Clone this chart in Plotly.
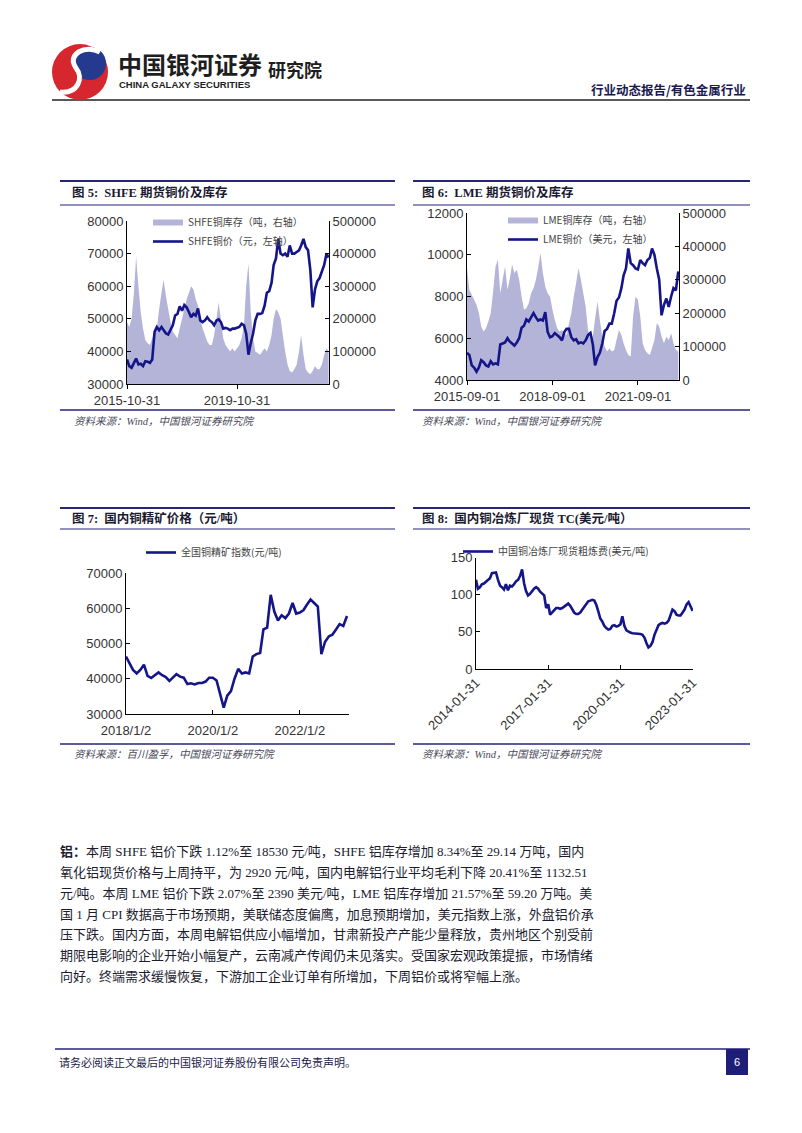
import plotly.graph_objects as go
import pandas as pd

W, H = 802, 1133


def px(x):
    return x / W


def py(y):
    return 1 - y / H


NAVY = '#15158A'
AREA = '#B4B4D8'
RULE = '#25257A'
TICKC = '#333333'
CJK = 'Noto Sans CJK SC'
SERIF = 'Liberation Serif, Noto Sans CJK SC'
SANS = 'Liberation Sans, Arial, Noto Sans CJK SC'

# ---------------- data ----------------
# Fig 5: SHFE copper price (yuan/t, left) and SHFE copper stock (t, right), month-end from 2015-10-31
shfe_dates = pd.date_range('2015-10-31', periods=89, freq=pd.offsets.MonthEnd())
shfe_price = [
    37500, 35500, 35000, 36500, 37800, 36000, 36200, 35500, 37000, 36800, 36500, 37500,
    46000, 47500, 46500, 47500, 46500, 45500, 45200, 46500, 48000, 51000, 51500, 53800,
    52500, 54200, 53500, 52000, 50500, 51500, 51000, 53200, 49500, 49000, 49500, 50500,
    49500, 49000, 48000, 49500, 49800, 49000, 47000, 47200, 47000, 46500, 47000, 47000,
    47200, 47500, 48500, 48000, 45500, 39000, 42500, 45500, 49500, 51500, 51500, 51800,
    54000, 58000, 58500, 61000, 66500, 68500, 74500, 70000, 69500, 70000, 69000, 72500,
    70000, 70000, 70500, 71000, 72500, 74500, 72000, 71000, 65000, 53500, 59000, 61500,
    62500, 64500, 66500, 70000, 68800,
]
shfe_stock = [
    190000, 175000, 200000, 280000, 390000, 300000, 220000, 170000, 135000, 125000, 120000, 140000,
    160000, 170000, 230000, 280000, 320000, 270000, 230000, 190000, 160000, 150000, 140000, 170000,
    200000, 230000, 260000, 280000, 300000, 290000, 260000, 240000, 200000, 170000, 150000, 130000,
    120000, 120000, 150000, 200000, 250000, 200000, 140000, 120000, 110000, 100000, 110000, 100000,
    110000, 120000, 140000, 180000, 300000, 370000, 220000, 140000, 100000, 95000, 90000, 100000,
    110000, 100000, 120000, 150000, 200000, 230000, 220000, 200000, 150000, 100000, 60000, 40000,
    35000, 45000, 60000, 100000, 150000, 90000, 45000, 35000, 30000, 40000, 55000, 45000,
    45000, 60000, 90000, 110000, 100000,
]

# Fig 6: LME copper price (USD/t, left) and LME copper stock (t, right), monthly from 2015-09-01
lme_dates = pd.date_range('2015-09-01', periods=90, freq=pd.offsets.MonthBegin())
lme_price = [
    5300, 5200, 4700, 4600, 4400, 4600, 4950, 4850, 4700, 4650, 4900, 4750,
    4800, 4750, 5700, 5750, 5800, 6000, 5850, 5750, 5650, 5800, 6000, 6500,
    6600, 6900, 6800, 7000, 7200, 7000, 6850, 6900, 6850, 7250, 6300, 6050,
    6100, 6250, 6150, 6050, 5900, 6300, 6450, 6450, 6050, 5900, 5950, 5750,
    5800, 5750, 5900, 6150, 6250, 5700, 4700, 5100, 5300, 5750, 6350, 6450,
    6700, 6700, 7200, 7800, 7950, 8400, 9000, 9350, 10300, 9600, 9500, 9350,
    9300, 9750, 9600, 9500, 9750, 9850, 10300, 10000, 9350, 8800, 7100, 7600,
    7900, 7500, 8000, 8400, 8300, 9200,
]
lme_stock = [
    335000, 270000, 255000, 240000, 225000, 200000, 160000, 145000, 155000, 175000, 200000, 265000,
    340000, 360000, 260000, 300000, 340000, 270000, 300000, 345000, 320000, 330000, 300000, 250000,
    210000, 215000, 230000, 260000, 275000, 300000, 335000, 380000, 320000, 280000, 260000, 250000,
    210000, 180000, 155000, 145000, 150000, 140000, 135000, 170000, 200000, 250000, 290000, 335000,
    300000, 260000, 220000, 150000, 120000, 130000, 185000, 235000, 180000, 130000, 100000, 85000,
    95000, 85000, 90000, 120000, 150000, 135000, 110000, 90000, 75000, 70000, 190000, 250000,
    240000, 190000, 110000, 90000, 80000, 75000, 95000, 120000, 170000, 160000, 130000, 110000,
    130000, 120000, 140000, 110000, 90000, 85000,
]

# Fig 7: national copper concentrate index (yuan/t), monthly from 2018-01-02
conc_dates = pd.date_range('2018-01-01', periods=62, freq=pd.offsets.MonthBegin()) + pd.Timedelta(days=1)
conc_index = [
    46300, 44500, 42500, 41500, 42500, 44000, 40800, 40200, 41000, 41800, 41000, 40500,
    39400, 40500, 41300, 40600, 40300, 38500, 38700, 38400, 38800, 38800, 39200, 40300,
    40300, 39500, 35500, 31800, 35200, 36500, 40000, 42800, 41500, 41800, 41500, 46300,
    47000, 47300, 54000, 54500, 63800, 59000, 56500, 58000, 57200, 58500, 61500, 58500,
    58800, 59500, 61000, 62500, 61500, 60500, 47000, 50500, 52000, 52500, 54000, 55500,
    55000, 57800,
]

# Fig 8: China copper smelter spot TC (USD/t), month-end from 2014-01-31
tc_dates = pd.date_range('2014-01-31', periods=109, freq=pd.offsets.MonthEnd())
tc_values = [
    120, 108, 110, 114, 115, 117, 120, 122, 129, 130, 130, 120,
    112, 110, 107, 114, 106, 112, 111, 114, 118, 120, 125, 134,
    115, 105, 99, 101, 105, 108, 110, 108, 104, 101, 99, 82,
    87, 73, 76, 80, 82, 82, 81, 82, 84, 87, 88, 85,
    81, 76, 74, 74, 76, 80, 84, 88, 91, 92, 93, 92,
    86, 78, 68, 64, 58, 55, 53, 54, 58, 59, 57, 58,
    60, 71, 58, 52, 50, 49, 48, 48, 48, 47, 47, 46,
    42, 35, 29, 31, 36, 46, 54, 59, 61, 62, 61, 62,
    65, 72, 80, 78, 73, 72, 72, 76, 80, 87, 90, 84, 78,
]

# tick values / labels
shfe_ticks = ['2015-10-31', '2019-10-31']
lme_ticks = ['2015-09-01', '2018-09-01', '2021-09-01']
conc_ticks = ['2018-01-02', '2020-01-02', '2022-01-02']
conc_ticktext = ['2018/1/2', '2020/1/2', '2022/1/2']
tc_ticks = ['2014-01-31', '2017-01-31', '2020-01-31', '2023-01-31']
stock_ticks = [0, 100000, 200000, 300000, 400000, 500000]
shfe_price_ticks = [30000, 40000, 50000, 60000, 70000, 80000]
lme_price_ticks = [4000, 6000, 8000, 10000, 12000]
conc_y_ticks = [30000, 40000, 50000, 60000, 70000]
tc_y_ticks = [0, 50, 100, 150]


def lab(vals):
    return [str(v) for v in vals]


# ---------------- figure ----------------
fig = go.Figure()

fig.add_trace(go.Scatter(x=shfe_dates, y=shfe_stock, name='SHFE铜库存（吨，右轴）', mode='none',
                         fill='tozeroy', fillcolor=AREA, xaxis='x', yaxis='y', legend='legend'))
fig.add_trace(go.Scatter(x=shfe_dates, y=shfe_price, name='SHFE铜价（元，左轴）', mode='lines',
                         line=dict(color=NAVY, width=2.6), xaxis='x', yaxis='y2', legend='legend'))
fig.add_trace(go.Scatter(x=lme_dates, y=lme_stock, name='LME铜库存（吨，右轴）', mode='none',
                         fill='tozeroy', fillcolor=AREA, xaxis='x2', yaxis='y3', legend='legend2'))
fig.add_trace(go.Scatter(x=lme_dates, y=lme_price, name='LME铜价（美元，左轴）', mode='lines',
                         line=dict(color=NAVY, width=2.6), xaxis='x2', yaxis='y4', legend='legend2'))
fig.add_trace(go.Scatter(x=conc_dates, y=conc_index, name='全国铜精矿指数(元/吨)', mode='lines',
                         line=dict(color=NAVY, width=2.6), xaxis='x3', yaxis='y5', legend='legend3'))
fig.add_trace(go.Scatter(x=tc_dates, y=tc_values, name='中国铜冶炼厂现货粗炼费(美元/吨)', mode='lines',
                         line=dict(color=NAVY, width=2.6), xaxis='x4', yaxis='y6', legend='legend4'))

tickfont = dict(family=SANS, size=13, color=TICKC)
base = dict(showgrid=False, zeroline=False, showline=True, linecolor='#000000', linewidth=1,
            tickfont=tickfont, ticklen=4, tickcolor='#000000', fixedrange=True, automargin=False)


def dom_x(a, b):
    return [px(a), px(b)]


def dom_y(top, bottom):
    return [py(bottom), py(top)]


layout = dict(
    width=W, height=H, autosize=False,
    margin=dict(l=0, r=0, t=0, b=0, pad=0, autoexpand=False),
    paper_bgcolor='white', plot_bgcolor='rgba(0,0,0,0)',
    showlegend=True,
    # Fig 5
    xaxis=dict(base, domain=dom_x(127, 329), anchor='y', type='date',
               range=['2015-10-31', '2023-03-05'], tickvals=shfe_ticks, ticktext=shfe_ticks,
               ticks='outside'),
    yaxis=dict(base, domain=dom_y(221, 384), anchor='x', side='right', range=[0, 500000],
               tickvals=stock_ticks, ticktext=lab(stock_ticks), ticks='inside'),
    yaxis2=dict(base, overlaying='y', anchor='x', side='left', range=[30000, 80000],
                tickvals=shfe_price_ticks, ticktext=lab(shfe_price_ticks), ticks='inside'),
    # Fig 6
    xaxis2=dict(base, domain=dom_x(467, 679), anchor='y3', type='date',
                range=['2015-09-01', '2023-02-10'], tickvals=lme_ticks, ticktext=lme_ticks,
                ticks='outside'),
    yaxis3=dict(base, domain=dom_y(213, 380), anchor='x2', side='right', range=[0, 500000],
                tickvals=stock_ticks, ticktext=lab(stock_ticks), ticks='inside'),
    yaxis4=dict(base, overlaying='y3', anchor='x2', side='left', range=[4000, 12000],
                tickvals=lme_price_ticks, ticktext=lab(lme_price_ticks), ticks='inside'),
    # Fig 7
    xaxis3=dict(base, domain=dom_x(126, 349), anchor='y5', type='date',
                range=['2018-01-02', '2023-02-19'], tickvals=conc_ticks, ticktext=conc_ticktext,
                ticks='inside', ticklabelstandoff=4),
    yaxis5=dict(base, domain=dom_y(573, 714), anchor='x3', range=[30000, 70000],
                tickvals=conc_y_ticks, ticktext=lab(conc_y_ticks), ticks='inside'),
    # Fig 8
    xaxis4=dict(base, domain=dom_x(476, 693), anchor='y6', type='date',
                range=['2014-01-31', '2023-02-05'], tickvals=tc_ticks, ticktext=tc_ticks,
                ticks='inside', tickangle=-45),
    yaxis6=dict(base, domain=dom_y(557.5, 669), anchor='x4', range=[0, 150],
                tickvals=tc_y_ticks, ticktext=lab(tc_y_ticks), ticks='inside'),
)

legfont = dict(family=CJK, size=10, color='#444444')
legbase = dict(bgcolor='rgba(0,0,0,0)', borderwidth=0, font=legfont, xanchor='left',
               yanchor='top', tracegroupgap=0, itemwidth=30, orientation='v')
layout['legend'] = dict(legbase, x=px(148), y=py(208))
layout['legend2'] = dict(legbase, x=px(503), y=py(206))
layout['legend3'] = dict(legbase, x=px(141), y=py(538))
layout['legend4'] = dict(legbase, x=px(458), y=py(537))

fig.update_layout(**layout)

# ---------------- shapes (rules, logo, footer box) ----------------
shapes = []


def hline(x0, x1, y, width, color=RULE):
    shapes.append(dict(type='line', xref='paper', yref='paper', x0=px(x0), x1=px(x1),
                       y0=py(y), y1=py(y), line=dict(color=color, width=width)))


# header rule
hline(52, 750, 100, 1.3, '#222222')
# chart block rules
for (xa, xb) in [(60, 395), (413, 750)]:
    hline(xa, xb, 181, 2.0)
    hline(xa, xb, 205, 1.2)
    hline(xa, xb, 410, 1.3)
    hline(xa, xb, 508, 2.0)
    hline(xa, xb, 529, 1.2)
    hline(xa, xb, 744, 1.3)
# footer rule
hline(55, 750, 1049, 1.4)
# footer page box
shapes.append(dict(type='rect', xref='paper', yref='paper', x0=px(726), x1=px(748),
                   y0=py(1075), y1=py(1049), fillcolor='#1E1E78', line=dict(width=0)))

# logo: red disk, blue inner swoosh, white S band
shapes.append(dict(type='circle', xref='paper', yref='paper', x0=px(52), x1=px(108),
                   y0=py(100), y1=py(44), fillcolor='#D6262E', line=dict(width=0)))
shapes.append(dict(type='circle', xref='paper', yref='paper', x0=px(74), x1=px(106),
                   y0=py(80), y1=py(47), fillcolor='#243A8E', line=dict(width=0)))


def P(x, y):
    return f'{px(x):.5f},{py(y):.5f}'


s_path = ('M ' + P(100, 52) + ' C ' + P(86, 44) + ' ' + P(66, 54) + ' ' + P(76, 68) +
          ' C ' + P(84, 78) + ' ' + P(78, 94) + ' ' + P(60, 92))
shapes.append(dict(type='path', xref='paper', yref='paper', path=s_path,
                   line=dict(color='white', width=5)))

fig.update_layout(shapes=shapes)

# ---------------- text ----------------
ann = []


def txt(x, y, s, size, color='#1A1A1A', family=CJK, xanchor='left'):
    ann.append(dict(xref='paper', yref='paper', x=px(x), y=py(y), text=s, showarrow=False,
                    xanchor=xanchor, yanchor='middle', font=dict(family=family, size=size, color=color)))


# header
txt(116, 63, '<b>中国银河证券</b>', 24, '#1E1E1E')
txt(117, 84, '<b>CHINA GALAXY SECURITIES</b>', 9.5, '#1E1E1E', family='Liberation Sans Narrow, Liberation Sans')
txt(266, 69, '<b>研究院</b>', 18, '#1E1E1E')
txt(748, 90, '<b>行业动态报告/有色金属行业</b>', 12.5, '#1A1A50', xanchor='right')

# chart titles
TT = '#1A1A30'
txt(70, 193, '<b>图 5:  SHFE 期货铜价及库存</b>', 12.5, TT, family=SERIF)
txt(420, 193, '<b>图 6:  LME 期货铜价及库存</b>', 12.5, TT, family=SERIF)
txt(70, 518, '<b>图 7:  国内铜精矿价格（元/吨）</b>', 12.5, TT, family=SERIF)
txt(420, 518, '<b>图 8:  国内铜冶炼厂现货 TC(美元/吨）</b>', 12.5, TT, family=SERIF)

# sources
SC = '#4A4A5A'
txt(72, 421, '<i>资料来源：Wind，中国银河证券研究院</i>', 10.5, SC, family=SERIF)
txt(420, 421, '<i>资料来源：Wind，中国银河证券研究院</i>', 10.5, SC, family=SERIF)
txt(72, 754, '<i>资料来源：百川盈孚，中国银河证券研究院</i>', 10.5, SC, family=SERIF)
txt(420, 754, '<i>资料来源：Wind，中国银河证券研究院</i>', 10.5, SC, family=SERIF)

# paragraph
para = [
    '<b>铝：</b>本周 SHFE 铝价下跌 1.12%至 18530 元/吨，SHFE 铝库存增加 8.34%至 29.14 万吨，国内',
    '氧化铝现货价格与上周持平，为 2920 元/吨，国内电解铝行业平均毛利下降 20.41%至 1132.51',
    '元/吨。本周 LME 铝价下跌 2.07%至 2390 美元/吨，LME 铝库存增加 21.57%至 59.20 万吨。美',
    '国 1 月 CPI 数据高于市场预期，美联储态度偏鹰，加息预期增加，美元指数上涨，外盘铝价承',
    '压下跌。国内方面，本周电解铝供应小幅增加，甘肃新投产产能少量释放，贵州地区个别受前',
    '期限电影响的企业开始小幅复产，云南减产传闻仍未见落实。受国家宏观政策提振，市场情绪',
    '向好。终端需求缓慢恢复，下游加工企业订单有所增加，下周铝价或将窄幅上涨。',
]
for i, line in enumerate(para):
    txt(58, 852 + i * 20.67, line, 13, '#1C1C30', family=SERIF)

# footer
txt(57, 1062, '请务必阅读正文最后的中国银河证券股份有限公司免责声明。', 11, '#1A1A4A')
txt(737, 1062, '6', 11, 'white', family=SANS, xanchor='center')

fig.update_layout(annotations=ann)

fig.write_html('out.html')
